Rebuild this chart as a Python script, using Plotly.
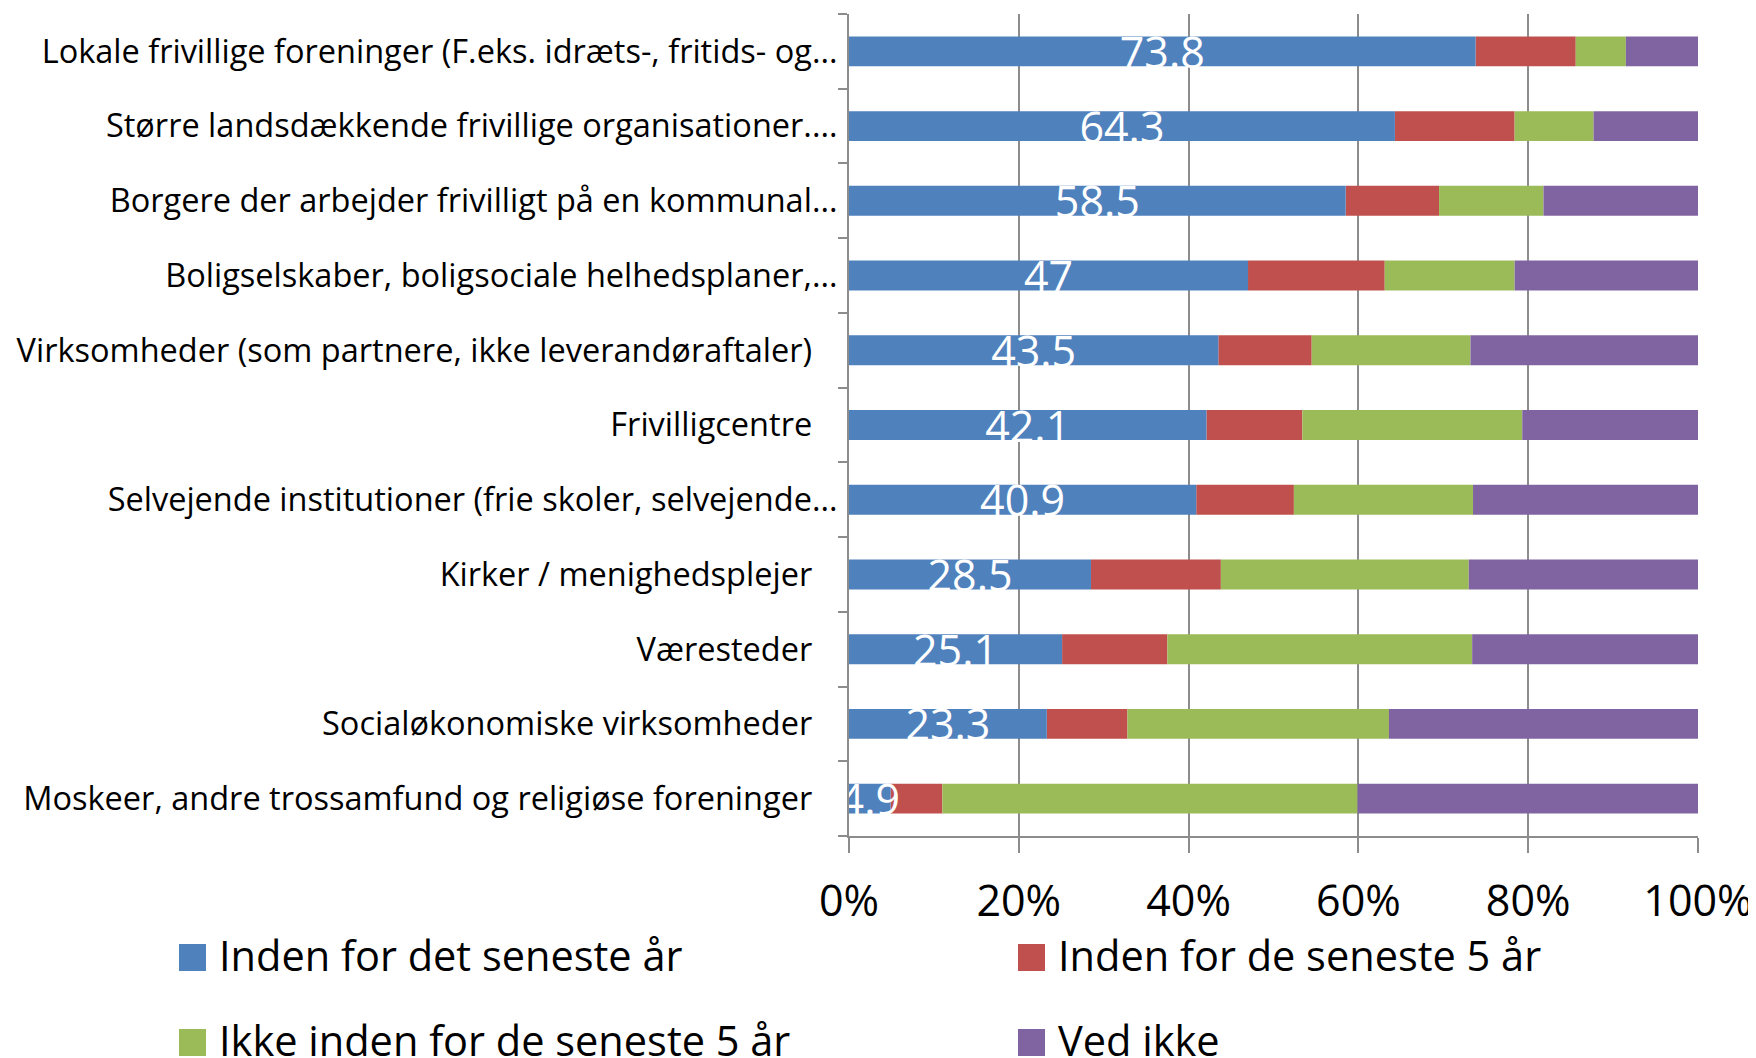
import plotly.graph_objects as go

categories = [
    "Lokale frivillige foreninger (F.eks. idræts-, fritids- og...",
    "Større landsdækkende frivillige organisationer....",
    "Borgere der arbejder frivilligt på en kommunal...",
    "Boligselskaber, boligsociale helhedsplaner,...",
    "Virksomheder (som partnere, ikke leverandøraftaler)",
    "Frivilligcentre",
    "Selvejende institutioner (frie skoler, selvejende...",
    "Kirker / menighedsplejer",
    "Væresteder",
    "Socialøkonomiske virksomheder",
    "Moskeer, andre trossamfund og religiøse foreninger",
]
series_names = [
    "Inden for det seneste år",
    "Inden for de seneste 5 år",
    "Ikke inden for de seneste 5 år",
    "Ved ikke",
]
s_year = [73.8, 64.3, 58.5, 47.0, 43.5, 42.1, 40.9, 28.5, 25.1, 23.3, 4.9]
s_5yr = [11.8, 14.1, 11.0, 16.1, 11.0, 11.3, 11.5, 15.3, 12.4, 9.5, 6.1]
s_not = [5.9, 9.3, 12.3, 15.3, 18.7, 25.9, 21.1, 29.2, 35.9, 30.8, 48.9]
s_dk = [8.5, 12.3, 18.2, 21.6, 26.8, 20.7, 26.5, 27.0, 26.6, 36.4, 40.1]
x_ticks = [0, 20, 40, 60, 80, 100]

colors = ["#4F81BD", "#C0504D", "#9BBB59", "#8064A2"]
FONT = "Open Sans"

# untruncated labels carry a trailing gap like the original
tick_text = [c if c.endswith("...") else c + "\u00a0\u00a0\u00a0" for c in categories]

all_series = [s_year, s_5yr, s_not, s_dk]
# stacked bases (cumulative sums of the preceding series)
bases = []
running = [0.0] * len(categories)
for vals in all_series:
    bases.append(list(running))
    running = [r + v for r, v in zip(running, vals)]

fig = go.Figure()
# draw the later segments first so the first series' labels sit on top (as in the original)
for i in [1, 2, 3, 0]:
    vals = all_series[i]
    kw = {}
    if i == 0:
        kw = dict(text=[f"{v:g}" for v in vals], textposition="inside",
                  insidetextanchor="middle", constraintext="none", textangle=0,
                  textfont=dict(family=FONT, size=43, color="white"))
    fig.add_trace(go.Bar(
        y=categories, x=vals, base=bases[i], name=series_names[i], orientation="h",
        marker=dict(color=colors[i], line=dict(width=0)),
        showlegend=False, hoverinfo="x+name", **kw))

# the page body adds an 8px offset; size the figure so it lands where the original is
OFF = 8
W, H = 1756 - OFF, 1058 - OFF
L, R, T, B = 841, 58, 6, 222
pw, ph = W - L - R, H - T - B

def px(xw):
    return (xw - OFF - L) / pw

def py(yw):
    return (H - B - (yw - OFF)) / ph

# manual legend (large square keys like the original), window pixel positions
leg_keys = [(179, 944), (1018, 944), (179, 1029), (1018, 1029)]
for i, name in enumerate(series_names):
    x0, y0 = leg_keys[i]
    fig.add_shape(type="rect", xref="paper", yref="paper",
                  x0=px(x0), x1=px(x0 + 27), y0=py(y0), y1=py(y0 + 27),
                  fillcolor=colors[i], line=dict(width=0))
    fig.add_annotation(xref="paper", yref="paper", x=px(x0 + 39), y=py(y0 + 11),
                       xanchor="left", yanchor="middle", text=name, showarrow=False,
                       borderpad=0,
                       font=dict(family=FONT, size=41.5, color="black"))

fig.update_layout(
    width=W, height=H, barmode="overlay", bargap=0.6,
    margin=dict(l=L, r=R, t=T, b=B, pad=0, autoexpand=False),
    plot_bgcolor="white", paper_bgcolor="white",
    uniformtext=dict(minsize=43, mode="show"),
    font=dict(family=FONT, color="black"),
)
fig.update_xaxes(
    range=[0, 100], tickvals=x_ticks, ticktext=[f"{v}%" for v in x_ticks],
    automargin=False,
    showgrid=True, gridcolor="#8C8C8C", gridwidth=1.5,
    showline=True, linecolor="#8C8C8C", linewidth=2,
    ticks="outside", ticklen=15, tickcolor="#8C8C8C", tickwidth=1.5,
    ticklabelstandoff=11,
    tickfont=dict(family=FONT, size=43, color="black"), zeroline=False,
)
fig.update_yaxes(
    autorange="reversed", tickmode="array", tickvals=categories, ticktext=tick_text,
    automargin=False,
    tickson="boundaries", ticks="outside", ticklen=9, tickcolor="#8C8C8C", tickwidth=1.5,
    ticklabelstandoff=3,
    showline=True, linecolor="#8C8C8C", linewidth=2, showgrid=False,
    tickfont=dict(family=FONT, size=32.5, color="black"),
)

fig.write_html("out.html")
